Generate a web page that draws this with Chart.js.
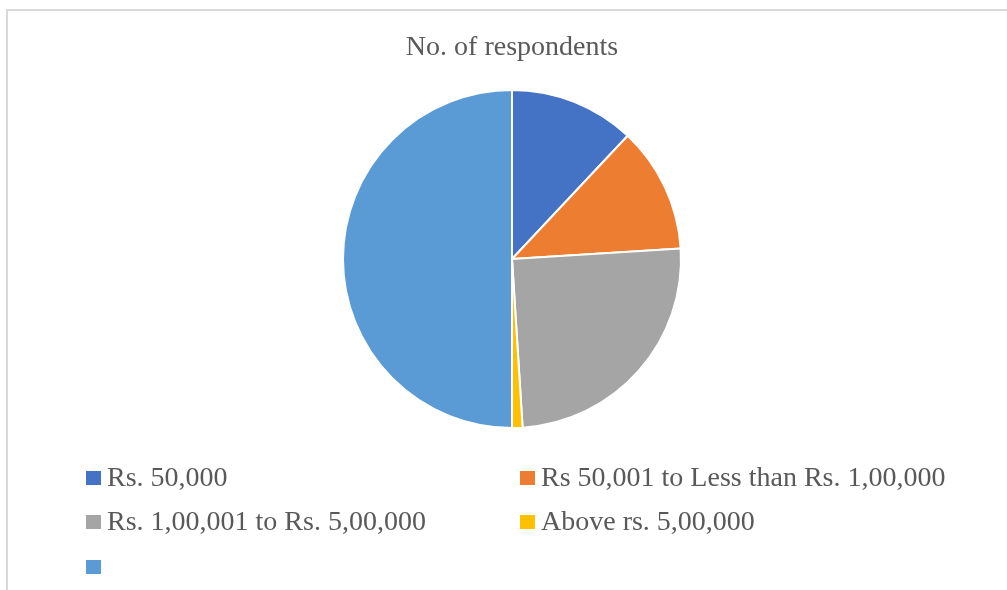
<!DOCTYPE html>
<html>
<head>
<meta charset="utf-8">
<script src="https://cdn.jsdelivr.net/npm/chart.js@4.4.1/dist/chart.umd.min.js"></script>
<style>
  html, body { margin: 0; padding: 0; background: #ffffff; }
  #wrap { position: relative; width: 1007px; height: 590px; overflow: hidden; }
  #frame { position: absolute; left: 6px; top: 9px; width: 1100px; height: 700px; border: 2px solid #d9d9d9; box-sizing: border-box; }
  #c { position: absolute; left: 0; top: 0; }
  .item { position: absolute; font-family: "Liberation Serif", "Times New Roman", serif; font-size: 28px; line-height: 28px; color: #595959; white-space: nowrap; }
  .sw { position: absolute; width: 15px; height: 14px; top: 8px; }
</style>
</head>
<body>
<div id="wrap">
  <div id="frame"></div>
  <canvas id="c" width="1007" height="590"></canvas>
  <div id="legend"></div>
</div>
<script>
const chartTitle = "No. of respondents";
const categories = ["Rs. 50,000", "Rs 50,001 to Less than Rs. 1,00,000", "Rs. 1,00,001 to Rs. 5,00,000", "Above rs. 5,00,000", ""];
const respondents = [12, 12, 25, 1, 50];
const sliceColors = ["#4472C4", "#ED7D31", "#A5A5A5", "#FFC000", "#5B9BD5"];

const chart = new Chart(document.getElementById('c'), {
  type: 'pie',
  data: {
    labels: categories,
    datasets: [{
      data: respondents,
      backgroundColor: sliceColors,
      borderColor: '#ffffff',
      borderWidth: 2
    }]
  },
  options: {
    responsive: false,
    animation: false,
    layout: { padding: { top: 0, bottom: 161, left: 17, right: 0 } },
    plugins: {
      legend: { display: false },
      tooltip: { enabled: false },
      title: {
        display: true,
        text: chartTitle,
        color: '#595959',
        font: { family: '"Liberation Serif", "Times New Roman", serif', size: 28, weight: 'normal', lineHeight: 1.2 },
        padding: { top: 31, bottom: 24.4 }
      }
    }
  }
});

// Legend built from the chart's data (two columns)
const legendEl = document.getElementById('legend');
const colX = [86, 520];
const rowY = [463, 507, 552];
categories.forEach((lab, i) => {
  const col = i % 2, row = Math.floor(i / 2);
  const d = document.createElement('div');
  d.className = 'item';
  d.style.left = colX[col] + 'px';
  d.style.top = rowY[row] + 'px';
  d.style.paddingLeft = '21px';
  const sw = document.createElement('span');
  sw.className = 'sw';
  sw.style.left = '0px';
  sw.style.background = chart.data.datasets[0].backgroundColor[i];
  d.appendChild(sw);
  d.appendChild(document.createTextNode(lab));
  legendEl.appendChild(d);
});
</script>
</body>
</html>
